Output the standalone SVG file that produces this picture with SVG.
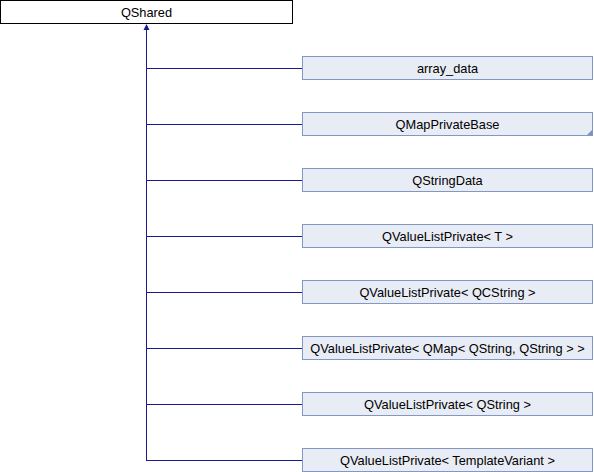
<svg xmlns="http://www.w3.org/2000/svg" width="594" height="472" viewBox="0 0 594 472">
<style>
.base{fill:#ffffff;stroke:#000000;stroke-width:1}
.node{fill:#e8ecf5;stroke:#8497c4;stroke-width:1}
.lbl{font-family:"Liberation Sans",Arial,sans-serif;font-size:12.8px;fill:#000000;text-anchor:middle}
.edge{stroke:#1a1a8c;stroke-width:1;fill:none}
.head{fill:#1a1a8c}
.tri{fill:#7f8fbf}
</style>
<rect width="594" height="472" fill="#ffffff"/>
<g id="connectors">
<path class="edge" d="M146.5,29 V461"/>
<polygon class="head" points="146.5,24 143.5,30 149.5,30"/>
<path class="edge" d="M146.5,68.5 H302"/>
<path class="edge" d="M146.5,124.5 H302"/>
<path class="edge" d="M146.5,180.5 H302"/>
<path class="edge" d="M146.5,236.5 H302"/>
<path class="edge" d="M146.5,292.5 H302"/>
<path class="edge" d="M146.5,348.5 H302"/>
<path class="edge" d="M146.5,404.5 H302"/>
<path class="edge" d="M146.5,460.5 H302"/>
</g>
<g id="QShared">
<rect class="base" x="0.5" y="0.5" width="292" height="23"/>
<text class="lbl" x="146.5" y="16.5">QShared</text>
</g>
<g id="array_data">
<rect class="node" x="302.5" y="56.5" width="290" height="23"/>
<text class="lbl" x="447.5" y="72.5">array_data</text>
</g>
<g id="QMapPrivateBase">
<rect class="node" x="302.5" y="112.5" width="290" height="23"/>
<polygon class="tri" points="592,130 592,135 587,135"/>
<text class="lbl" x="447.5" y="128.5">QMapPrivateBase</text>
</g>
<g id="QStringData">
<rect class="node" x="302.5" y="168.5" width="290" height="23"/>
<text class="lbl" x="447.5" y="184.5">QStringData</text>
</g>
<g id="QValueListPrivate_T">
<rect class="node" x="302.5" y="224.5" width="290" height="23"/>
<text class="lbl" x="447.5" y="240.5">QValueListPrivate&lt; T &gt;</text>
</g>
<g id="QValueListPrivate_QCString">
<rect class="node" x="302.5" y="280.5" width="290" height="23"/>
<text class="lbl" x="447.5" y="296.5">QValueListPrivate&lt; QCString &gt;</text>
</g>
<g id="QValueListPrivate_QMap">
<rect class="node" x="302.5" y="336.5" width="290" height="23"/>
<text class="lbl" x="447.5" y="352.5">QValueListPrivate&lt; QMap&lt; QString, QString &gt; &gt;</text>
</g>
<g id="QValueListPrivate_QString">
<rect class="node" x="302.5" y="392.5" width="290" height="23"/>
<text class="lbl" x="447.5" y="408.5">QValueListPrivate&lt; QString &gt;</text>
</g>
<g id="QValueListPrivate_TemplateVariant">
<rect class="node" x="302.5" y="448.5" width="290" height="23"/>
<text class="lbl" x="447.5" y="464.5">QValueListPrivate&lt; TemplateVariant &gt;</text>
</g>
</svg>
